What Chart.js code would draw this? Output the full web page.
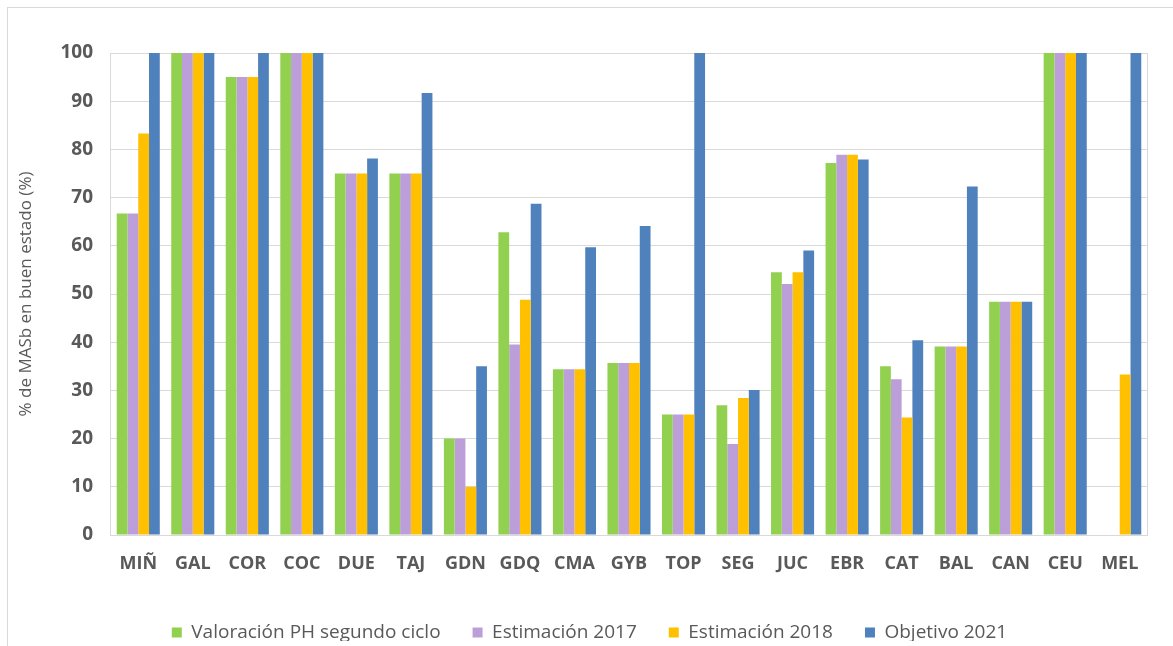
<!DOCTYPE html>
<html>
<head>
<meta charset="utf-8">
<script src="https://cdn.jsdelivr.net/npm/chart.js@4/dist/chart.umd.min.js"></script>
<style>
    html, body { margin: 0; padding: 0; background: #fff; }
    #wrap { position: relative; width: 1173px; height: 646px; overflow: hidden; }
    #frame { position: absolute; left: 7px; top: 7px; width: 1180px; height: 660px; border: 1px solid #d9d9d9; box-sizing: border-box; }
    canvas { position: absolute; left: 0; top: 0; }
</style>
</head>
<body>
<div id="wrap">
    <div id="frame"></div>
    <canvas id="chart" width="1173" height="646"></canvas>
</div>
<script>
// Demarcaciones
const categories = ['MIÑ', 'GAL', 'COR', 'COC', 'DUE', 'TAJ', 'GDN', 'GDQ', 'CMA', 'GYB', 'TOP', 'SEG', 'JUC', 'EBR', 'CAT', 'BAL', 'CAN', 'CEU', 'MEL'];

// Series (% de MASb en buen estado)
const valoracionPH = [66.7, 100, 95, 100, 75, 75, 20, 62.8, 34.4, 35.7, 25, 26.9, 54.5, 77.2, 35, 39.1, 48.4, 100, null];
const estimacion2017 = [66.7, 100, 95, 100, 75, 75, 20, 39.5, 34.4, 35.7, 25, 18.9, 52.1, 78.9, 32.3, 39.1, 48.4, 100, null];
const estimacion2018 = [83.3, 100, 95, 100, 75, 75, 10, 48.8, 34.4, 35.7, 25, 28.4, 54.5, 78.9, 24.4, 39.1, 48.4, 100, 33.3];
const objetivo2021 = [100, 100, 100, 100, 78.1, 91.7, 35, 68.7, 59.7, 64.1, 100, 30.1, 59, 77.9, 40.4, 72.3, 48.4, 100, 100];

const yTicks = [0, 10, 20, 30, 40, 50, 60, 70, 80, 90, 100];

const textColor = '#595959';
const gridColor = '#d9d9d9';

// Bord droit de la zone de tracé
const plotBorder = {
    id: 'plotBorder',
    afterDraw(chart) {
        const a = chart.chartArea;
        const ctx = chart.ctx;
        ctx.save();
        ctx.strokeStyle = gridColor;
        ctx.lineWidth = 1;
        ctx.beginPath();
        ctx.moveTo(a.right + 0.5, a.top);
        ctx.lineTo(a.right + 0.5, a.bottom);
        ctx.stroke();
        ctx.restore();
    }
};

// Hauteur fixe et léger décalage pour la légende
const legendTweak = {
    id: 'legendTweak',
    beforeInit(chart) {
        const fit = chart.legend.fit;
        chart.legend.fit = function () {
            fit.call(this);
            this.height = 50;
        };
    },
    afterLayout(chart) {
        chart.legend.left += 10;
        chart.legend.right += 10;
    }
};

const ctx = document.getElementById('chart').getContext('2d');
new Chart(ctx, {
    type: 'bar',
    data: {
        labels: categories,
        datasets: [
            { label: 'Valoración PH segundo ciclo', data: valoracionPH, backgroundColor: '#92d050' },
            { label: 'Estimación 2017', data: estimacion2017, backgroundColor: '#bc9fd9' },
            { label: 'Estimación 2018', data: estimacion2018, backgroundColor: '#ffc000' },
            { label: 'Objetivo 2021', data: objetivo2021, backgroundColor: '#4f81bd' }
        ]
    },
    options: {
        responsive: false,
        animation: false,
        categoryPercentage: 0.79,
        barPercentage: 1.0,
        layout: { padding: { left: 12, right: 26, top: 53, bottom: 5 } },
        plugins: {
            tooltip: { enabled: false },
            legend: {
                position: 'bottom',
                labels: {
                    color: textColor,
                    font: { family: 'Open Sans', size: 19 },
                    boxWidth: 10,
                    boxHeight: 10,
                    padding: 32
                }
            }
        },
        scales: {
            x: {
                grid: { display: false },
                border: { color: gridColor },
                ticks: {
                    color: textColor,
                    padding: 10,
                    font: { family: 'Open Sans', size: 18, weight: 'bold' }
                },
                afterFit(scale) { scale.height = 56; }
            },
            y: {
                min: 0,
                max: 100,
                afterBuildTicks(scale) { scale.ticks = yTicks.map(v => ({ value: v })); },
                grid: { color: gridColor, drawTicks: false },
                border: { color: gridColor },
                ticks: {
                    color: textColor,
                    padding: 18,
                    font: { family: 'Open Sans', size: 19, weight: 'bold' }
                },
                title: {
                    display: true,
                    text: '% de MASb en buen estado (%)',
                    color: textColor,
                    font: { family: 'Open Sans', size: 17 },
                    padding: { top: 4, bottom: 6 }
                }
            }
        }
    },
    plugins: [plotBorder, legendTweak]
});
</script>
</body>
</html>
